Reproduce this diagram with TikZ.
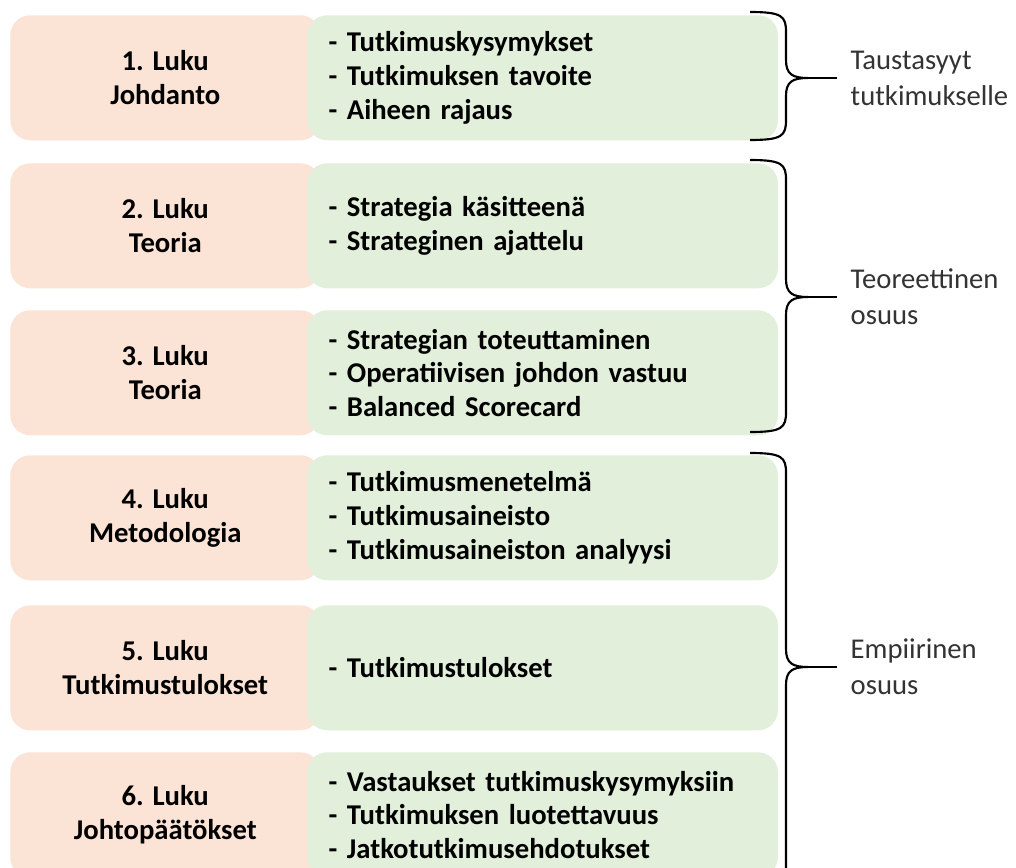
\documentclass[tikz,border=0pt]{standalone}
\usepackage{fontspec}
\setmainfont{Carlito}
\usetikzlibrary{positioning}

\definecolor{lukupink}{RGB}{251,228,214}
\definecolor{sisgreen}{RGB}{226,239,218}

\tikzset{
  lukubox/.style={rounded corners=15pt, fill=lukupink, anchor=north west, align=center, minimum width=232.5pt, minimum height=93.75pt, font=\fontsize{21.5}{25.2}\selectfont\bfseries},
  sisbox/.style={rounded corners=15pt, fill=sisgreen, anchor=north west, align=left, text width=321pt, inner xsep=16pt, minimum height=93.75pt, font=\fontsize{21.5}{25.2}\selectfont\bfseries},
  osalab/.style={anchor=west, align=left, text=black!80, font=\fontsize{21.5}{27}\selectfont},
  sulku/.style={line width=1.6pt, black},
  sulkuviiva/.style={line width=1.6pt, black, shorten >=7pt}
}

\begin{document}
\begin{tikzpicture}[x=0.75pt,y=-0.75pt]
    \useasboundingbox (0,0) rectangle (1016,867);
    \fill[white] (0,0) rectangle (1016,867);
    \clip (0,0) rectangle (1016,867);

    % luvut
    \foreach \i/\y/\luku/\sis in {
        1/15/{1. Luku\\Johdanto}/{- Tutkimuskysymykset\\- Tutkimuksen tavoite\\- Aiheen rajaus},
        2/163/{2. Luku\\Teoria}/{- Strategia käsitteenä\\- Strateginen ajattelu},
        3/310/{3. Luku\\Teoria}/{- Strategian toteuttaminen\\- Operatiivisen johdon vastuu\\- Balanced Scorecard},
        4/455/{4. Luku\\Metodologia}/{- Tutkimusmenetelmä\\- Tutkimusaineisto\\- Tutkimusaineiston analyysi},
        5/605/{5. Luku\\Tutkimustulokset}/{- Tutkimustulokset},
        6/752/{6. Luku\\Johtopäätökset}/{- Vastaukset tutkimuskysymyksiin\\- Tutkimuksen luotettavuus\\- Jatkotutkimusehdotukset}} {
        \node[lukubox] (luku\i) at (10,\y) {\luku};
        \node[sisbox] (sis\i) at (307,\y) {\sis};
    }

    % osat
    \foreach \i/\t/\m/\b/\osa in {
        1/12/78/140/{Taustasyyt\\tutkimukselle},
        2/160/297/432/{Teoreettinen\\osuus},
        3/453/667/885/{Empiirinen\\osuus}} {
        \coordinate (karki\i) at (808,\m);
        \node[osalab] (osa\i) at (846,\m) {\osa};
        \draw[sulku] (750,\t) .. controls (782,\t) and (786,\t+4) .. (786,\t+20)
            -- (786,\m-18) .. controls (786,\m-4) and (792,\m) .. (karki\i)
            .. controls (792,\m) and (786,\m+4) .. (786,\m+18)
            -- (786,\b-20) .. controls (786,\b-4) and (782,\b) .. (750,\b);
        \draw[sulkuviiva] (karki\i) -- (osa\i.west);
    }
\end{tikzpicture}
\end{document}
